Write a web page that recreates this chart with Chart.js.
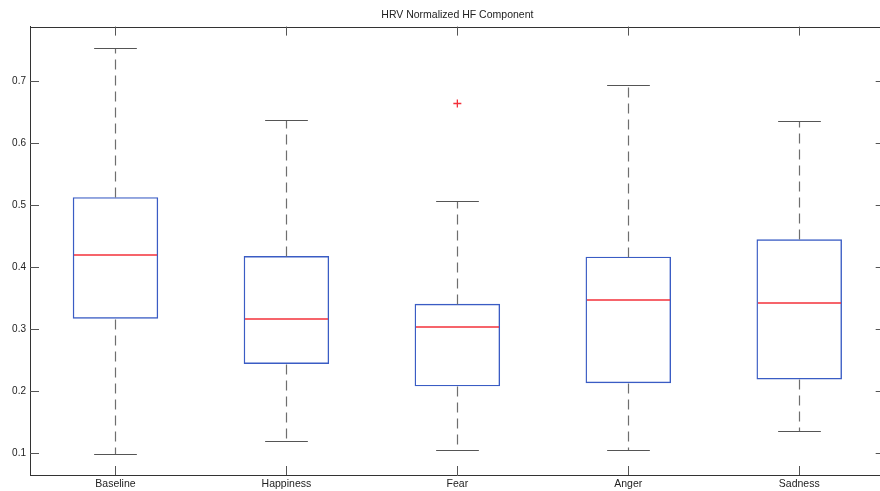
<!DOCTYPE html>
<html>
<head>
<meta charset="utf-8">
<script src="https://cdn.jsdelivr.net/npm/chart.js@4.4.1/dist/chart.umd.min.js"></script>
<style>
  html, body { margin: 0; padding: 0; background: #fff; overflow: hidden; }
  #wrap { width: 890px; height: 491px; }
</style>
</head>
<body>
<div id="wrap"><canvas id="hrvChart" width="890" height="491"></canvas></div>
<script>
// Boxplot values
const categories = ['Baseline', 'Happiness', 'Fear', 'Anger', 'Sadness'];
const whiskerLow = [0.099, 0.120, 0.105, 0.105, 0.136];
const q1 = [0.317, 0.244, 0.208, 0.213, 0.219];
const medians = [0.420, 0.317, 0.303, 0.347, 0.343];
const q3 = [0.513, 0.418, 0.341, 0.417, 0.445];
const whiskerHigh = [0.754, 0.638, 0.506, 0.694, 0.635];
const outliers = [null, null, 0.664, null, null];
const yTicks = [0.1, 0.2, 0.3, 0.4, 0.5, 0.6, 0.7];

const FONT = 'Liberation Sans, Arial, sans-serif';
const TICK_LEN = 9;

// whiskers, caps, medians, frame and inward ticks (matlab look)
const boxDecor = {
    id: 'boxDecor',
    afterDatasetsDraw(chart) {
        const ctx = chart.ctx;
        const x = chart.scales.x;
        const y = chart.scales.y;
        const area = chart.chartArea;
        const step = x.getPixelForValue(1) - x.getPixelForValue(0);
        const capHalf = step * 0.125;
        const boxHalf = step * 0.25;

        ctx.save();
        categories.forEach((c, i) => {
            const cx = Math.round(x.getPixelForValue(i)) + 0.5;
            const px = v => Math.round(y.getPixelForValue(v)) + 0.5;

            // dashed whiskers
            ctx.strokeStyle = '#6e6e6e';
            ctx.lineWidth = 1.2;
            ctx.setLineDash([10, 6]);
            ctx.beginPath();
            ctx.moveTo(cx, px(q3[i]));
            ctx.lineTo(cx, px(whiskerHigh[i]));
            ctx.moveTo(cx, px(q1[i]));
            ctx.lineTo(cx, px(whiskerLow[i]));
            ctx.stroke();
            ctx.setLineDash([]);

            // caps
            ctx.strokeStyle = '#555';
            ctx.lineWidth = 1;
            ctx.beginPath();
            ctx.moveTo(cx - capHalf, px(whiskerHigh[i]));
            ctx.lineTo(cx + capHalf, px(whiskerHigh[i]));
            ctx.moveTo(cx - capHalf, px(whiskerLow[i]));
            ctx.lineTo(cx + capHalf, px(whiskerLow[i]));
            ctx.stroke();

            // median, soft 2-row line like the reference
            const my = Math.round(y.getPixelForValue(medians[i]));
            ctx.strokeStyle = '#f3303a';
            ctx.lineWidth = 1.5;
            ctx.beginPath();
            ctx.moveTo(Math.round(cx - boxHalf) + 1, my);
            ctx.lineTo(Math.round(cx + boxHalf) - 1, my);
            ctx.stroke();
        });

        // frame top + right
        ctx.lineWidth = 1;
        ctx.strokeStyle = '#333';
        ctx.beginPath();
        ctx.moveTo(area.left, Math.round(area.top) + 0.5);
        ctx.lineTo(area.right, Math.round(area.top) + 0.5);
        ctx.moveTo(Math.round(area.right) - 0.5, area.top);
        ctx.lineTo(Math.round(area.right) - 0.5, area.bottom);
        ctx.stroke();

        // inward ticks
        ctx.strokeStyle = '#555';
        ctx.beginPath();
        yTicks.forEach(t => {
            const ty = Math.round(y.getPixelForValue(t)) + 0.5;
            ctx.moveTo(area.left, ty);
            ctx.lineTo(area.left + TICK_LEN, ty);
            ctx.moveTo(area.right, ty);
            ctx.lineTo(area.right - TICK_LEN, ty);
        });
        categories.forEach((c, i) => {
            const tx = Math.round(x.getPixelForValue(i)) + 0.5;
            ctx.moveTo(tx, area.top);
            ctx.lineTo(tx, area.top + TICK_LEN);
            ctx.moveTo(tx, area.bottom);
            ctx.lineTo(tx, area.bottom - TICK_LEN);
        });
        ctx.stroke();
        ctx.restore();
    }
};

new Chart(document.getElementById('hrvChart').getContext('2d'), {
    type: 'bar',
    data: {
        labels: categories,
        datasets: [{
            label: 'IQR',
            data: categories.map((c, i) => [q1[i], q3[i]]),
            backgroundColor: 'rgba(0,0,0,0)',
            borderColor: '#3a5cc4',
            borderWidth: 1.4,
            borderSkipped: false,
            categoryPercentage: 1,
            barPercentage: 0.5
        }, {
            type: 'line',
            label: 'Outliers',
            data: outliers,
            showLine: false,
            pointStyle: 'cross',
            pointRadius: 4,
            pointBorderWidth: 1.3,
            pointBorderColor: '#f3303a',
            pointBackgroundColor: '#f3303a'
        }]
    },
    options: {
        responsive: false,
        animation: false,
        devicePixelRatio: 1,
        layout: { padding: { left: 0, right: 2, top: 0, bottom: 0 } },
        plugins: {
            legend: { display: false },
            tooltip: { enabled: false },
            title: {
                display: true,
                fullSize: false,
                text: 'HRV Normalized HF Component',
                color: '#222',
                font: { family: FONT, size: 10.5, weight: 'normal' },
                padding: { top: 9, bottom: 5 }
            }
        },
        scales: {
            x: {
                type: 'category',
                offset: true,
                grid: { display: false, drawTicks: false },
                border: { display: true, color: '#333' },
                ticks: { color: '#222', padding: 3, font: { family: FONT, size: 10.5 } },
                afterFit(scale) { scale.height = 16; }
            },
            y: {
                type: 'linear',
                min: 0.065,
                max: 0.788,
                grid: { display: false, drawTicks: false },
                border: { display: true, color: '#333' },
                afterBuildTicks(scale) { scale.ticks = yTicks.map(v => ({ value: v })); },
                ticks: {
                    color: '#222',
                    padding: 4,
                    font: { family: FONT, size: 10 },
                    callback: v => v.toFixed(1)
                },
                afterFit(scale) { scale.width = 30; }
            }
        }
    },
    plugins: [boxDecor]
});
</script>
</body>
</html>
